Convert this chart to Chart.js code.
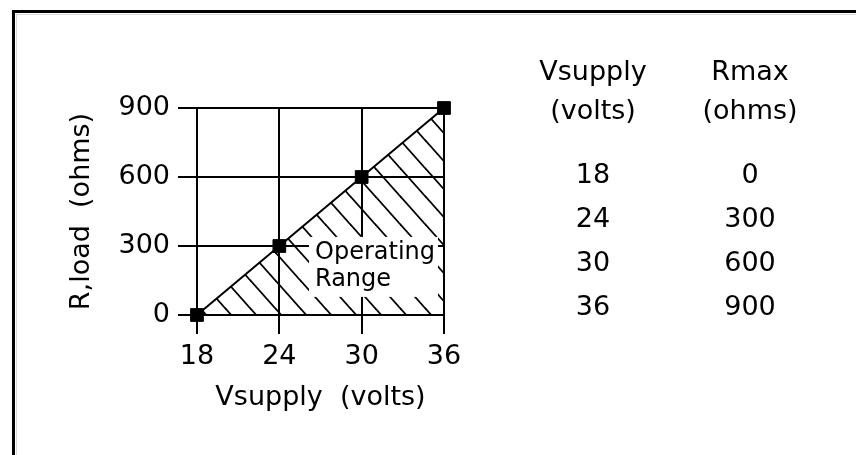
<!DOCTYPE html>
<html>
<head>
<meta charset="utf-8">
<script src="https://cdn.jsdelivr.net/npm/chart.js@4.4.1/dist/chart.umd.min.js"></script>
<style>
    html, body { margin: 0; padding: 0; background: #fff; }
    canvas { display: block; }
</style>
</head>
<body>
<canvas id="myChart" width="856" height="455"></canvas>
<script>
const vSupply = [18, 24, 30, 36];
const rMax = [0, 300, 600, 900];
const xTicks = [18, 24, 30, 36];
const yTicks = [0, 300, 600, 900];
const tableHeads = [['Vsupply', '(volts)'], ['Rmax', '(ohms)']];
const areaLabel = ['Operating', 'Range'];
const areaLabelAt = { x: 26.6, y: 270 }; // data units

const FONT = 'DejaVu Sans';
const canvas = document.getElementById('myChart');
const ctx = canvas.getContext('2d');

// diagonal hatch for the operating range
function hatchPattern() {
    const w = 25, h = 28;
    const c = document.createElement('canvas');
    c.width = w;
    c.height = h;
    const g = c.getContext('2d');
    g.strokeStyle = '#000';
    g.lineWidth = 1.8;
    for (const dx of [-w, 0, w]) {
        g.beginPath();
        g.moveTo(dx - w, -h);
        g.lineTo(dx + 2 * w, 2 * h);
        g.stroke();
    }
    return ctx.createPattern(c, 'repeat');
}

const framePlugin = {
    id: 'frame',
    beforeDraw(chart) {
        const c = chart.ctx;
        c.save();
        c.fillStyle = '#fff';
        c.fillRect(0, 0, chart.width, chart.height);
        c.fillStyle = '#000';
        c.fillRect(12, 10, chart.width - 12, 3);
        c.fillRect(12, 10, 3, chart.height - 10);
        c.fillStyle = '#d9d9d9';
        c.fillRect(16, 14, chart.width - 16, 1);
        c.fillRect(16, 14, 1, chart.height - 14);
        c.restore();
    }
};

const areaLabelPlugin = {
    id: 'areaLabel',
    afterDatasetsDraw(chart) {
        const c = chart.ctx;
        const px = chart.scales.x.getPixelForValue(areaLabelAt.x);
        const py = chart.scales.y.getPixelForValue(areaLabelAt.y);
        c.save();
        c.font = '24px "' + FONT + '"';
        const wMax = Math.max(...areaLabel.map(t => c.measureText(t).width));
        c.fillStyle = '#fff';
        c.fillRect(px - 6, py - 16, wMax + 9, 60);
        c.fillStyle = '#000';
        c.textAlign = 'left';
        c.textBaseline = 'middle';
        areaLabel.forEach((t, i) => c.fillText(t, px, py + i * 27));
        c.restore();
    }
};

const tablePlugin = {
    id: 'table',
    afterDraw(chart) {
        const c = chart.ctx;
        const cols = [593, 750];
        c.save();
        c.font = '27px "' + FONT + '"';
        c.fillStyle = '#000';
        c.textAlign = 'center';
        c.textBaseline = 'middle';
        tableHeads.forEach((head, j) => {
            head.forEach((t, k) => c.fillText(t, cols[j], 73 + k * 39));
        });
        vSupply.forEach((v, i) => {
            c.fillText(String(v), cols[0], 176 + i * 44);
            c.fillText(String(rMax[i]), cols[1], 176 + i * 44);
        });
        c.restore();
    }
};

const data = {
    datasets: [{
        data: vSupply.map((v, i) => ({ x: v, y: rMax[i] })),
        borderColor: '#000',
        borderWidth: 2,
        backgroundColor: hatchPattern(),
        fill: 'origin',
        tension: 0,
        pointStyle: 'rect',
        pointRadius: 9,
        pointBackgroundColor: '#000',
        pointBorderColor: '#000',
        pointBorderWidth: 1,
        clip: false
    }]
};

const tickFont = { family: FONT, size: 27 };

const config = {
    type: 'line',
    data: data,
    options: {
        responsive: false,
        animation: false,
        events: [],
        layout: { padding: { left: 62, top: 108, right: 412, bottom: 37 } },
        scales: {
            x: {
                type: 'linear',
                min: 18,
                max: 36,
                afterBuildTicks: s => { s.ticks = xTicks.map(v => ({ value: v })); },
                afterFit: s => { s.height = 103; },
                grid: { color: '#000', lineWidth: 2, tickLength: 19, tickColor: '#000' },
                border: { color: '#000', width: 2 },
                ticks: { color: '#000', font: tickFont, padding: 7, maxRotation: 0, autoSkip: false },
                title: { display: true, text: 'Vsupply  (volts)', color: '#000', font: tickFont, padding: { top: 4, bottom: 4 } }
            },
            y: {
                type: 'linear',
                min: 0,
                max: 900,
                afterBuildTicks: s => { s.ticks = yTicks.map(v => ({ value: v })); },
                afterFit: s => { s.width = 135; },
                grid: { color: '#000', lineWidth: 2, tickLength: 19, tickColor: '#000' },
                border: { color: '#000', width: 2 },
                ticks: { color: '#000', font: tickFont, padding: 8, autoSkip: false },
                title: { display: true, text: 'R,load  (ohms)', color: '#000', font: tickFont, padding: { top: 4, bottom: 4 } }
            }
        },
        plugins: {
            legend: { display: false },
            tooltip: { enabled: false }
        }
    },
    plugins: [framePlugin, areaLabelPlugin, tablePlugin]
};

const myChart = new Chart(canvas, config);
</script>
</body>
</html>
